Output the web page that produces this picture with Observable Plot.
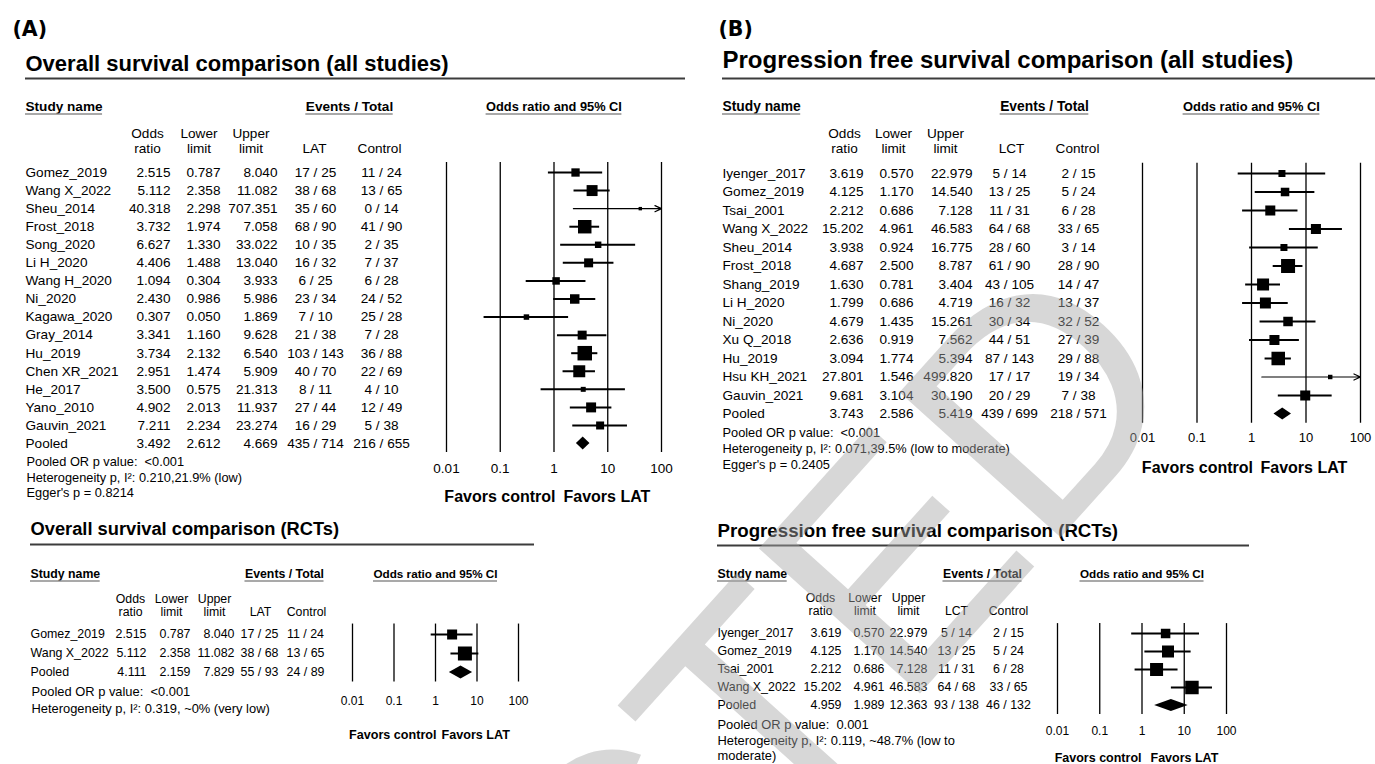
<!DOCTYPE html>
<html><head><meta charset="utf-8">
<script src="https://cdn.jsdelivr.net/npm/d3@7"></script>
<script src="https://cdn.jsdelivr.net/npm/@observablehq/plot@0.6"></script>
<style>
body{margin:0;background:#fff}
#chart{position:relative;width:1375px;height:764px;background:#fff;overflow:hidden}
#chart svg{position:absolute;left:0;top:0}
#chart svg text{white-space:pre}
</style></head><body><div id="chart"></div>
<script>
// ---------- DATA ----------
const tickValues = [0.01, 0.1, 1, 10, 100];
const tickLabels = ["0.01", "0.1", "1", "10", "100"];
const colHeadTop = ["Odds", "Lower", "Upper", "", ""];
const colHeadBottomOS = ["ratio", "limit", "limit", "LAT", "Control"];
const colHeadBottomPFS = ["ratio", "limit", "limit", "LCT", "Control"];
const favorLabels = ["Favors control", "Favors LAT"];

// Overall survival, all studies
const osAllStudy = ["Gomez_2019","Wang X_2022","Sheu_2014","Frost_2018","Song_2020","Li H_2020","Wang H_2020","Ni_2020","Kagawa_2020","Gray_2014","Hu_2019","Chen XR_2021","He_2017","Yano_2010","Gauvin_2021","Pooled"];
const osAllOR    = [2.515,5.112,40.318,3.732,6.627,4.406,1.094,2.430,0.307,3.341,3.734,2.951,3.500,4.902,7.211,3.492];
const osAllLower = [0.787,2.358,2.298,1.974,1.330,1.488,0.304,0.986,0.050,1.160,2.132,1.474,0.575,2.013,2.234,2.612];
const osAllUpper = [8.040,11.082,707.351,7.058,33.022,13.040,3.933,5.986,1.869,9.628,6.540,5.909,21.313,11.937,23.274,4.669];
const osAllLatEv = [17,38,35,68,10,16,6,23,7,21,103,40,8,27,16,435];
const osAllLatN  = [25,68,60,90,35,32,25,34,10,38,143,70,11,44,29,714];
const osAllCtlEv = [11,13,0,41,2,7,6,24,25,7,36,22,4,12,5,216];
const osAllCtlN  = [24,65,14,90,35,37,28,52,28,28,88,69,10,49,38,655];
const osAllWeight = [5.3,9.2,0.9,13.9,3.2,6.2,4.3,6.9,2.3,6.2,16.1,11.0,1.9,7.6,4.9];
const osAllNotes = ["Pooled OR p value:  <0.001","Heterogeneity p, I²: 0.210,21.9% (low)","Egger's p = 0.8214"];

// Progression free survival, all studies
const pfsAllStudy = ["Iyenger_2017","Gomez_2019","Tsai_2001","Wang X_2022","Sheu_2014","Frost_2018","Shang_2019","Li H_2020","Ni_2020","Xu Q_2018","Hu_2019","Hsu KH_2021","Gauvin_2021","Pooled"];
const pfsAllOR    = [3.619,4.125,2.212,15.202,3.938,4.687,1.630,1.799,4.679,2.636,3.094,27.801,9.681,3.743];
const pfsAllLower = [0.570,1.170,0.686,4.961,0.924,2.500,0.781,0.686,1.435,0.919,1.774,1.546,3.104,2.586];
const pfsAllUpper = [22.979,14.540,7.128,46.583,16.775,8.787,3.404,4.719,15.261,7.562,5.394,499.820,30.190,5.419];
const pfsAllLctEv = [5,13,11,64,28,61,43,16,30,44,87,17,20,439];
const pfsAllLctN  = [14,25,31,68,60,90,105,32,34,51,143,17,29,699];
const pfsAllCtlEv = [2,5,6,33,3,28,14,13,32,27,29,19,7,218];
const pfsAllCtlN  = [15,24,28,65,14,90,47,37,52,39,88,34,38,571];
const pfsAllWeight = [3.7,5.5,7.6,7.6,3.7,14.8,10.9,9.1,6.8,7.6,13.8,1.5,7.6];
const pfsAllNotes = ["Pooled OR p value:  <0.001","Heterogeneity p, I²: 0.071,39.5% (low to moderate)","Egger's p = 0.2405"];

// Overall survival, RCTs
const osRctStudy = ["Gomez_2019","Wang X_2022","Pooled"];
const osRctOR    = [2.515,5.112,4.111];
const osRctLower = [0.787,2.358,2.159];
const osRctUpper = [8.040,11.082,7.829];
const osRctLatEv = [17,38,55];
const osRctLatN  = [25,68,93];
const osRctCtlEv = [11,13,24];
const osRctCtlN  = [24,65,89];
const osRctWeight = [33.8,66.2];
const osRctNotes = ["Pooled OR p value:  <0.001","Heterogeneity p, I²: 0.319, ~0% (very low)"];

// Progression free survival, RCTs
const pfsRctStudy = ["Iyenger_2017","Gomez_2019","Tsai_2001","Wang X_2022","Pooled"];
const pfsRctOR    = [3.619,4.125,2.212,15.202,4.959];
const pfsRctLower = [0.570,1.170,0.686,4.961,1.989];
const pfsRctUpper = [22.979,14.540,7.128,46.583,12.363];
const pfsRctLctEv = [5,13,11,64,93];
const pfsRctLctN  = [14,25,31,68,138];
const pfsRctCtlEv = [2,5,6,33,46];
const pfsRctCtlN  = [15,24,28,65,132];
const pfsRctWeight = [15.4,24.6,28.9,31.1];
const pfsRctNotes = ["Pooled OR p value:  0.001","Heterogeneity p, I²: 0.119, ~48.7% (low to","moderate)"];

const watermarkText = ["RETRACTED"];

// ---------- LAYOUT ----------
const W = 1375, H = 764;
const FONT = "Liberation Sans, Arial, Helvetica, sans-serif";
const f3 = d3.format(".3f");
const ctx = document.createElement("canvas").getContext("2d");
function tw(text, size, weight) { ctx.font = `${weight || "normal"} ${size}px "Liberation Sans", Arial, sans-serif`; return ctx.measureText(text).width; }

function buildRows(names, or, lo, hi, e1, n1, e2, n2, w) {
  return names.map((name, i) => ({i, name, or: or[i], lo: lo[i], hi: hi[i],
    g1: `${e1[i]} / ${n1[i]}`, g2: `${e2[i]} / ${n2[i]}`, w: w[i], pooled: name === "Pooled"}));
}

function panel(L, rows, notes, colBottom) {
  const studies = rows.filter(d => !d.pooled);
  const pooled = rows.filter(d => d.pooled);
  const n = rows.length;
  const yr = p => (p - L.rowY0) / L.pitch;
  const xMid = (L.xr[0] + L.xr[1]) / 2;
  const xMax = tickValues[tickValues.length - 1];
  const txt = (s, o) => Plot.text([s], {frameAnchor: "top-left", text: d => d, fontFamily: FONT, fill: "#000", lineAnchor: "bottom", textAnchor: "start", ...o});
  const hline = (y, x1, x2, stroke, sw) => Plot.ruleY([yr(y)], {y: d => d, insetLeft: x1, insetRight: W - x2, stroke, strokeWidth: sw});
  const col = (accessor, dx, anchor) => Plot.text(rows, {y: "i", text: accessor, frameAnchor: "left", dx, textAnchor: anchor, fontSize: L.fs, fontFamily: FONT, fill: "#000"});
  const wStudy = tw("Study name", L.hdrSize, "bold");
  const wEv = tw("Events / Total", L.hdrSize, "bold");
  const wCi = tw("Odds ratio and 95% CI", L.ciHdrSize, "bold");
  const h = L.dHalf / L.pitch;
  const diamond = pooled.flatMap(d => [
    {x: d.lo, y1: d.i, y2: d.i}, {x: d.or, y1: d.i - h, y2: d.i + h}, {x: d.hi, y1: d.i, y2: d.i}]);
  const marks = [];
  if (L.label) marks.push(txt(L.label, {dx: L.labelX, dy: L.labelY, fontSize: 20.5, fontWeight: "bold", fontFamily: "DejaVu Sans, sans-serif"}));
  marks.push(
    txt(L.title, {dx: L.titleX, dy: L.titleY, fontSize: L.titleSize, fontWeight: "bold"}),
    hline(L.ruleY, L.ruleX1, L.ruleX2, "#3c3c3c", 1.8),
    txt("Study name", {dx: L.studyX, dy: L.hdrY, fontSize: L.hdrSize, fontWeight: "bold"}),
    hline(L.hdrY + 3.5, L.studyX, L.studyX + wStudy, "#8c8c8c", 1.5),
    txt("Events / Total", {dx: L.eventsCX, dy: L.hdrY, fontSize: L.hdrSize, fontWeight: "bold", textAnchor: "middle"}),
    hline(L.hdrY + 3.5, L.eventsCX - wEv / 2, L.eventsCX + wEv / 2, "#8c8c8c", 1.5),
    Plot.text([1], {x: d => d, text: () => "Odds ratio and 95% CI", frameAnchor: "top", dy: L.hdrY, lineAnchor: "bottom", fontSize: L.ciHdrSize, fontWeight: "bold", fontFamily: FONT, fill: "#000"}),
    hline(L.hdrY + 3.5, xMid - wCi / 2, xMid + wCi / 2, "#8c8c8c", 1.5)
  );
  L.colC.forEach((cx, k) => {
    if (colHeadTop[k]) marks.push(txt(colHeadTop[k], {dx: cx, dy: L.colY1, fontSize: L.colSize, textAnchor: "middle"}));
    marks.push(txt(colBottom[k], {dx: cx, dy: L.colY2, fontSize: L.colSize, textAnchor: "middle"}));
  });
  marks.push(
    col("name", L.nameX, "start"),
    col(d => f3(d.or), L.orR, "end"),
    col(d => f3(d.lo), L.loR, "end"),
    col(d => f3(d.hi), L.hiR, "end"),
    col("g1", L.g1C, "middle"),
    col("g2", L.g2C, "middle")
  );
  notes.forEach((s, k) => marks.push(txt(s, {dx: L.footX, dy: L.footY[k], fontSize: L.footSize})));
  // forest plot
  marks.push(
    Plot.ruleX(tickValues, {x: d => d, y1: -0.55, y2: n - 1 + 0.5, stroke: "#000", strokeWidth: 1.3}),
    Plot.ruleY(studies.filter(d => d.hi <= xMax), {y: "i", x1: "lo", x2: "hi", stroke: "#000", strokeWidth: 2}),
    Plot.arrow(studies.filter(d => d.hi > xMax), {x1: "lo", x2: () => xMax, y1: "i", y2: "i", stroke: "#000", strokeWidth: 1.2, headLength: 9, headAngle: 50}),
    Plot.dot(studies, {x: "or", y: "i", r: "w", symbol: "square", fill: "#000"}),
    Plot.areaY(diamond, {x: "x", y1: "y1", y2: "y2", fill: "#000"}),
    Plot.text(tickValues, {x: d => d, text: (d, i) => tickLabels[i], frameAnchor: "top", dy: L.tickY, lineAnchor: "bottom", fontSize: L.tickSize, fontFamily: FONT, fill: "#000"}),
    Plot.text([1], {x: d => d, text: () => favorLabels[0], frameAnchor: "top", dx: L.favL, dy: L.favY, lineAnchor: "bottom", textAnchor: "end", fontSize: L.favSize, fontWeight: "bold", fontFamily: FONT, fill: "#000"}),
    Plot.text([1], {x: d => d, text: () => favorLabels[1], frameAnchor: "top", dx: L.favR, dy: L.favY, lineAnchor: "bottom", textAnchor: "start", fontSize: L.favSize, fontWeight: "bold", fontFamily: FONT, fill: "#000"})
  );
  return Plot.plot({
    width: W, height: H, margin: 0,
    style: {background: "none", fontFamily: FONT, overflow: "visible"},
    x: {type: "log", domain: [tickValues[0], xMax], range: L.xr, axis: null},
    y: {type: "linear", domain: [0, 1], range: [L.rowY0, L.rowY0 + L.pitch], axis: null},
    r: {type: "sqrt", domain: [0, d3.max(studies, d => d.w)], range: [0, L.maxSide / Math.sqrt(Math.PI)]},
    marks
  });
}

const LAY_OS_ALL = {label: "(A)", labelX: 12, labelY: 35,
  title: "Overall survival comparison (all studies)", titleX: 25, titleY: 70, titleSize: 22,
  ruleY: 78, ruleX1: 25, ruleX2: 685,
  hdrY: 110, hdrSize: 13.6, ciHdrSize: 12.8, studyX: 25, eventsCX: 349,
  colY1: 137, colY2: 152, colSize: 13.6, colC: [147, 198.5, 250.5, 314, 379],
  nameX: 25, orR: 170, loR: 220, hiR: 277, g1C: 315, g2C: 381,
  rowY0: 172, pitch: 18.07, fs: 13.6,
  footX: 26, footY: [465, 481, 496], footSize: 12.8,
  xr: [446, 661], tickY: 472, tickSize: 13.5, favY: 501, favSize: 16, favL: 1.5, favR: 9.5,
  maxSide: 14.5, dHalf: 6.5};
const LAY_PFS_ALL = {label: "(B)", labelX: 718, labelY: 35,
  title: "Progression free survival comparison (all studies)", titleX: 722, titleY: 67, titleSize: 24,
  ruleY: 78, ruleX1: 722, ruleX2: 1375,
  hdrY: 110, hdrSize: 13.8, ciHdrSize: 12.9, studyX: 722, eventsCX: 1044,
  colY1: 137, colY2: 152, colSize: 13.6, colC: [844, 893, 945, 1011, 1077],
  nameX: 722, orR: 863, loR: 913, hiR: 972, g1C: 1009, g2C: 1078,
  rowY0: 173, pitch: 18.5, fs: 13.6,
  footX: 722, footY: [436, 452, 468], footSize: 12.8,
  xr: [1142, 1360], tickY: 441, tickSize: 13, favY: 472, favSize: 16, favL: 1.5, favR: 9,
  maxSide: 14, dHalf: 6};
const LAY_OS_RCT = {label: null,
  title: "Overall survival comparison (RCTs)", titleX: 30, titleY: 534, titleSize: 18.3,
  ruleY: 544, ruleX1: 30, ruleX2: 534,
  hdrY: 577, hdrSize: 12.3, ciHdrSize: 11.7, studyX: 30, eventsCX: 284,
  colY1: 602, colY2: 615, colSize: 12.3, colC: [130, 171, 214, 260, 306],
  nameX: 30, orR: 146, loR: 190, hiR: 234, g1C: 259, g2C: 305,
  rowY0: 634, pitch: 19, fs: 12.4,
  footX: 31, footY: [695, 712], footSize: 12.9,
  xr: [352, 518], tickY: 704, tickSize: 12, favY: 738, favSize: 12.6, favL: 1, favR: 6,
  maxSide: 14, dHalf: 6.5};
const LAY_PFS_RCT = {label: null,
  title: "Progression free survival comparison (RCTs)", titleX: 717, titleY: 536, titleSize: 18.7,
  ruleY: 545, ruleX1: 717, ruleX2: 1249,
  hdrY: 577, hdrSize: 12.3, ciHdrSize: 11.7, studyX: 717, eventsCX: 982,
  colY1: 601, colY2: 614, colSize: 12.3, colC: [820, 864.5, 908, 956, 1008],
  nameX: 717, orR: 841, loR: 884, hiR: 927, g1C: 956, g2C: 1008,
  rowY0: 633, pitch: 18, fs: 12.4,
  footX: 717, footY: [728, 744, 759], footSize: 12.9,
  xr: [1057, 1226], tickY: 734, tickSize: 12, favY: 761, favSize: 12.5, favL: -0.5, favR: 8.5,
  maxSide: 13.5, dHalf: 6};

const root = document.getElementById("chart");
root.append(
  panel(LAY_OS_ALL, buildRows(osAllStudy, osAllOR, osAllLower, osAllUpper, osAllLatEv, osAllLatN, osAllCtlEv, osAllCtlN, osAllWeight), osAllNotes, colHeadBottomOS),
  panel(LAY_PFS_ALL, buildRows(pfsAllStudy, pfsAllOR, pfsAllLower, pfsAllUpper, pfsAllLctEv, pfsAllLctN, pfsAllCtlEv, pfsAllCtlN, pfsAllWeight), pfsAllNotes, colHeadBottomPFS),
  panel(LAY_OS_RCT, buildRows(osRctStudy, osRctOR, osRctLower, osRctUpper, osRctLatEv, osRctLatN, osRctCtlEv, osRctCtlN, osRctWeight), osRctNotes, colHeadBottomOS),
  panel(LAY_PFS_RCT, buildRows(pfsRctStudy, pfsRctOR, pfsRctLower, pfsRctUpper, pfsRctLctEv, pfsRctLctN, pfsRctCtlEv, pfsRctCtlN, pfsRctWeight), pfsRctNotes, colHeadBottomPFS),
  // watermark stamped across the figure
  Plot.plot({width: W, height: H, margin: 0, style: {background: "none", overflow: "visible"},
    marks: [Plot.text(watermarkText, {frameAnchor: "top-left", text: d => d, dx: 1195, dy: 387, rotate: -48,
      textAnchor: "end", lineAnchor: "bottom", fontSize: 315, fontFamily: FONT, fill: "#a6a6a6", fillOpacity: 0.45})]})
);
</script></body></html>
